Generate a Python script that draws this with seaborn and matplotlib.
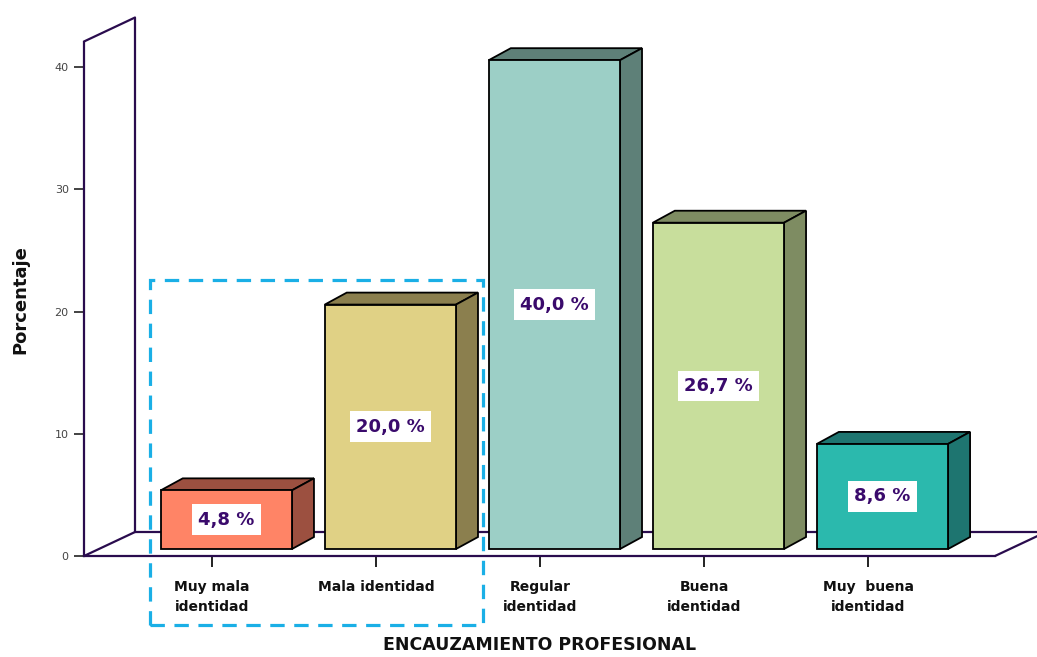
import matplotlib
matplotlib.use("Agg")
import matplotlib.pyplot as plt
from matplotlib.patches import Polygon, Rectangle
import seaborn as sns
import pandas as pd

# Data
categories = ["Muy mala\nidentidad", "Mala identidad", "Regular\nidentidad",
              "Buena\nidentidad", "Muy  buena\nidentidad"]
values = [4.8, 20.0, 40.0, 26.7, 8.6]
labels = ["4,8 %", "20,0 %", "40,0 %", "26,7 %", "8,6 %"]
yticks = [0, 10, 20, 30, 40]

front_colors = ["#FF8466", "#E0D185", "#9CCFC6", "#C8DE9C", "#2BB9AD"]
shade_colors = ["#9C5040", "#8B7F4E", "#5E8078", "#7E8C62", "#1E7570"]

frame_color = "#2A0C4E"
label_color = "#3A0A6C"

sns.set_theme(style="white")
plt.rcParams["font.family"] = ["DejaVu Sans"]

W, H = 1037, 657
fig = plt.figure(figsize=(W / 100, H / 100), dpi=100)
# axes spans the front floor edge and the front wall edge
ax = fig.add_axes([84 / W, 1 - 556 / H, (995 - 84) / W, (556 - 41.5) / H])

df = pd.DataFrame({"cat": categories, "val": values})
sns.barplot(data=df, x="cat", y="val", hue="cat", palette=front_colors,
            width=0.8, edgecolor="black", linewidth=1.3, saturation=1,
            legend=False, ax=ax, zorder=3)

xmin, xmax = -0.780, 4.774
ymin, ymax = 0.0, 42.1
ax.set_xlim(xmin, xmax)
ax.set_ylim(ymin, ymax)

# perspective offsets
wall_dx, wall_dy = 0.311, 1.963      # back wall depth
bar_dx, bar_dy = 0.134, 0.98         # bar depth
bar_shift, bar_base = 0.088, 0.573   # bars sit partway into the floor

# back wall and floor outline
kw = dict(color=frame_color, lw=1.6, clip_on=False, zorder=1)
ax.plot([xmin + wall_dx, xmin + wall_dx], [wall_dy, ymax + wall_dy], **kw)
ax.plot([xmin, xmin + wall_dx], [ymax, ymax + wall_dy], **kw)
ax.plot([xmin, xmin + wall_dx], [0, wall_dy], **kw)
ax.plot([xmin + wall_dx, xmax + wall_dx], [wall_dy, wall_dy], **kw)
ax.plot([xmax, xmax + wall_dx], [0, wall_dy], **kw)

# 3D bars: shift front faces, add top and side faces
for i, p in enumerate(ax.patches):
    p.set_x(p.get_x() + bar_shift)
    p.set_y(bar_base)
    x0, x1 = p.get_x(), p.get_x() + p.get_width()
    y0, y1 = bar_base, bar_base + p.get_height()
    top = Polygon([(x0, y1), (x1, y1), (x1 + bar_dx, y1 + bar_dy), (x0 + bar_dx, y1 + bar_dy)],
                  closed=True, facecolor=shade_colors[i], edgecolor="black", lw=1.3, zorder=2.5)
    side = Polygon([(x1, y0), (x1 + bar_dx, y0 + bar_dy), (x1 + bar_dx, y1 + bar_dy), (x1, y1)],
                   closed=True, facecolor=shade_colors[i], edgecolor="black", lw=1.3, zorder=2.5)
    ax.add_patch(top)
    ax.add_patch(side)
    ax.text((x0 + x1) / 2, (y0 + y1) / 2, labels[i], ha="center", va="center",
            fontsize=13, fontweight="bold", color=label_color, zorder=5,
            bbox=dict(boxstyle="square,pad=0.35", facecolor="white", edgecolor="none"))

# axes frame
for side_name in ["top", "right"]:
    ax.spines[side_name].set_visible(False)
for side_name in ["left", "bottom"]:
    ax.spines[side_name].set_color(frame_color)
    ax.spines[side_name].set_linewidth(1.6)
    ax.spines[side_name].set_zorder(4)

ax.set_yticks(yticks)
ax.set_yticklabels([str(t) for t in yticks], fontsize=8, color="#444444")
ax.set_xticks(range(len(categories)))
ax.set_xticklabels(categories, fontsize=10, fontweight="bold", color="#111111",
                   linespacing=1.55)
ax.tick_params(axis="y", direction="out", length=7, width=1.2, color="#222222", pad=4, left=True)
ax.tick_params(axis="x", direction="out", length=8, width=1.4, color="#222222", pad=9, bottom=True)

ax.set_xlabel("ENCAUZAMIENTO PROFESIONAL", fontsize=12.5, fontweight="bold",
              color="#111111", labelpad=16)
ax.set_ylabel("")
fig.text(20 / W, 1 - 300 / H, "Porcentaje", rotation=90, ha="center", va="center",
         fontsize=13, fontweight="bold", color="#111111")

# dashed highlight box
box = Rectangle((-0.378, -5.64), 1.652 + 0.378, 22.58 + 5.64, fill=False,
                edgecolor="#1AAFE6", lw=2.3, linestyle=(0, (4.5, 3)),
                clip_on=False, zorder=6)
ax.add_patch(box)

fig.savefig("out.png", dpi=100, facecolor="white")
